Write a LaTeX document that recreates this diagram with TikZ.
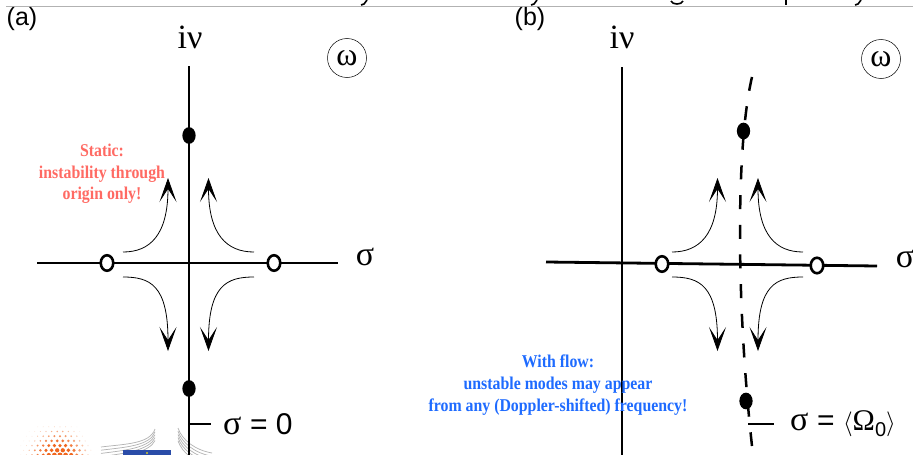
\documentclass[tikz,border=0pt]{standalone}
\usepackage{fontspec}
\setmainfont{Liberation Serif}
\setsansfont{Liberation Sans}
\newfontfamily\notef[FakeStretch=0.88]{Liberation Serif}
\usetikzlibrary{arrows.meta,shapes.geometric}
\tikzset{
 x=1pt,y=-1pt,
 axis/.style={line width=2.8pt,black},
 flow/.style={line width=0.8pt,black,-{Stealth[length=24pt,width=17pt,inset=13pt]}},
 dashline/.style={line width=2.5pt,black,dash pattern=on 14pt off 15.7pt},
 full/.style={ellipse,fill=black,minimum width=13.3pt,minimum height=16.7pt,inner sep=0pt},
 hollow/.style={ellipse,draw=black,line width=2.6pt,fill=white,minimum width=12.5pt,minimum height=15.5pt,inner sep=0pt},
 lab/.style={font=\fontsize{34}{34}\selectfont,inner sep=0pt,text=black},
 panel/.style={font=\sffamily\fontsize{25}{25}\selectfont,inner sep=0pt},
 omega/.style={circle,draw=black,line width=0.5pt,minimum size=39pt,inner sep=0pt,font=\fontsize{32}{32}\selectfont},
 note/.style={align=center,font=\notef\bfseries\fontsize{18}{21.7}\selectfont,inner sep=0pt},
 tick/.style={line width=1.9pt,black},
 frag/.style={line width=1.6pt,black},
 logoline/.style={line width=0.7pt,black!30},
}
\definecolor{notered}{HTML}{FF6A63}
\definecolor{noteblue}{HTML}{1E6BFF}
\definecolor{logoorange}{HTML}{F0661E}
\definecolor{logoblue}{HTML}{2A4CA8}
\begin{document}
\begin{tikzpicture}
\useasboundingbox (0,0) rectangle (913,455);
\fill[white] (0,0) rectangle (913,455);
% cropped line of text above the rule
\draw[frag] (367,0) -- (364,4) -- (361,5);
\draw[frag] (537,0) -- (534,4) -- (531,5);
\draw[frag] (671,1) .. controls (672,5) and (682,5) .. (683,1);
\draw[frag] (786,0) -- (786,5);
\draw[frag] (861,0) -- (858,4) -- (855,5);
\draw[line width=0.8pt,black!30] (6,6.3) -- (913,6.3);
% logos, cut by the lower edge
\begin{scope}
\clip (0,0) rectangle (913,455);
\foreach \j in {0,...,6}{
  \foreach \i in {-7,...,7}{
    \pgfmathsetmacro{\dx}{5.6*(\i+0.5*mod(\j,2))}
    \pgfmathsetmacro{\dy}{4.7*\j+7}
    \pgfmathsetmacro{\rr}{sqrt(\dx*\dx+\dy*\dy)}
    \pgfmathsetmacro{\s}{max(0.4,3.0-\rr/14)}
    \pgfmathsetmacro{\fad}{max(0,min(100,175-3.9*\rr-max(0,\dx)*1.2))}
    \fill[logoorange!\fad!white] ({60+\dx},{462-\dy}) circle (\s);
  }
}
\foreach \d in {0,3.2,6.4,9.6,12.8}{
  \draw[logoline] (101,447+\d) .. controls (125,444+\d) and (150,444+0.6*\d) .. (155,429+0.9*\d);
  \draw[logoline] (178,428+\d) .. controls (182,440+\d) and (195,450+\d) .. (212,453+\d);
}
\fill[logoblue] (123,450) rectangle (171,455);
\fill[yellow!80!black] (147,453) circle (1.2);
\end{scope}
% panel a
\node[panel] (pa) at (22,19) {(a)};
\node[lab] (nua) at (190,37) {iν};
\node[omega] (oma) at (347,58) {ω};
\coordinate (atop) at (189,66);
\coordinate (abot) at (189,455);
\coordinate (al) at (37,263);
\coordinate (ar) at (338,263);
\draw[axis] (atop) -- (abot);
\draw[axis] (al) -- (ar);
\node[full] (a1) at (189,135.5) {};
\node[full] (a2) at (189,388.5) {};
\node[hollow] (a3) at (107,263) {};
\node[hollow] (a4) at (274,263) {};
\node[lab] (sa) at (365,257) {σ};
\coordinate (ta) at (210.5,424);
\draw[tick] (a2 |- ta) -- (ta);
\node[lab,anchor=west] (s0) at (223,424) {σ {\sffamily\fontsize{30}{30}\selectfont = 0}};
\draw[flow] (123,252) .. controls (150,252) and (168,235) .. (168,178);
\draw[flow] (254,252) .. controls (227,252) and (208.5,235) .. (208.5,178);
\draw[flow] (123,277) .. controls (150,277) and (168,285) .. (168,351);
\draw[flow] (254,277) .. controls (227,277) and (208.5,285) .. (208.5,351);
\node[note,text=notered] (na) at (102,174) {Static:\\instability through\\origin only!};
% panel b
\node[panel] (pb) at (530,19) {(b)};
\node[lab] (nub) at (622,37) {iν};
\node[omega] (omb) at (881,59) {ω};
\coordinate (btop) at (622,67);
\coordinate (bbot) at (622,455);
\coordinate (bl) at (546,262);
\coordinate (br) at (877,266);
\coordinate (dtop) at (752,77);
\coordinate (dbot) at (752,446);
\draw[axis] (btop) -- (bbot);
\draw[axis] (bl) -- (br);
\draw[dashline] (dtop) .. controls (736,145) and (736,300) .. (dbot);
\node[full] (b1) at (743.5,131) {};
\node[full] (b2) at (746,401) {};
\node[hollow] (b3) at (662,264) {};
\node[hollow] (b4) at (817,265.5) {};
\node[lab] (sb) at (905,259) {σ};
\coordinate (tb1) at (748,424);
\coordinate (tb2) at (774,424);
\draw[tick] (tb1) -- (tb2);
\node[lab,anchor=west] (s1) at (790,424) {σ {\sffamily\fontsize{30}{30}\selectfont =} {\fontsize{30}{30}\selectfont$\langle$Ω\raisebox{-6pt}{\sffamily\fontsize{20}{20}\selectfont 0}$\rangle$}};
\draw[flow] (672,252) .. controls (699,252) and (717.5,235) .. (717.5,178);
\draw[flow] (803,252) .. controls (776,252) and (758,235) .. (758,178);
\draw[flow] (672,277) .. controls (699,277) and (717.5,285) .. (717.5,351);
\draw[flow] (803,277) .. controls (776,277) and (758,285) .. (758,351);
\node[note,text=noteblue] (nb) at (558,385) {With flow:\\unstable modes may appear\\from any (Doppler-shifted) frequency!};
\end{tikzpicture}
\end{document}
